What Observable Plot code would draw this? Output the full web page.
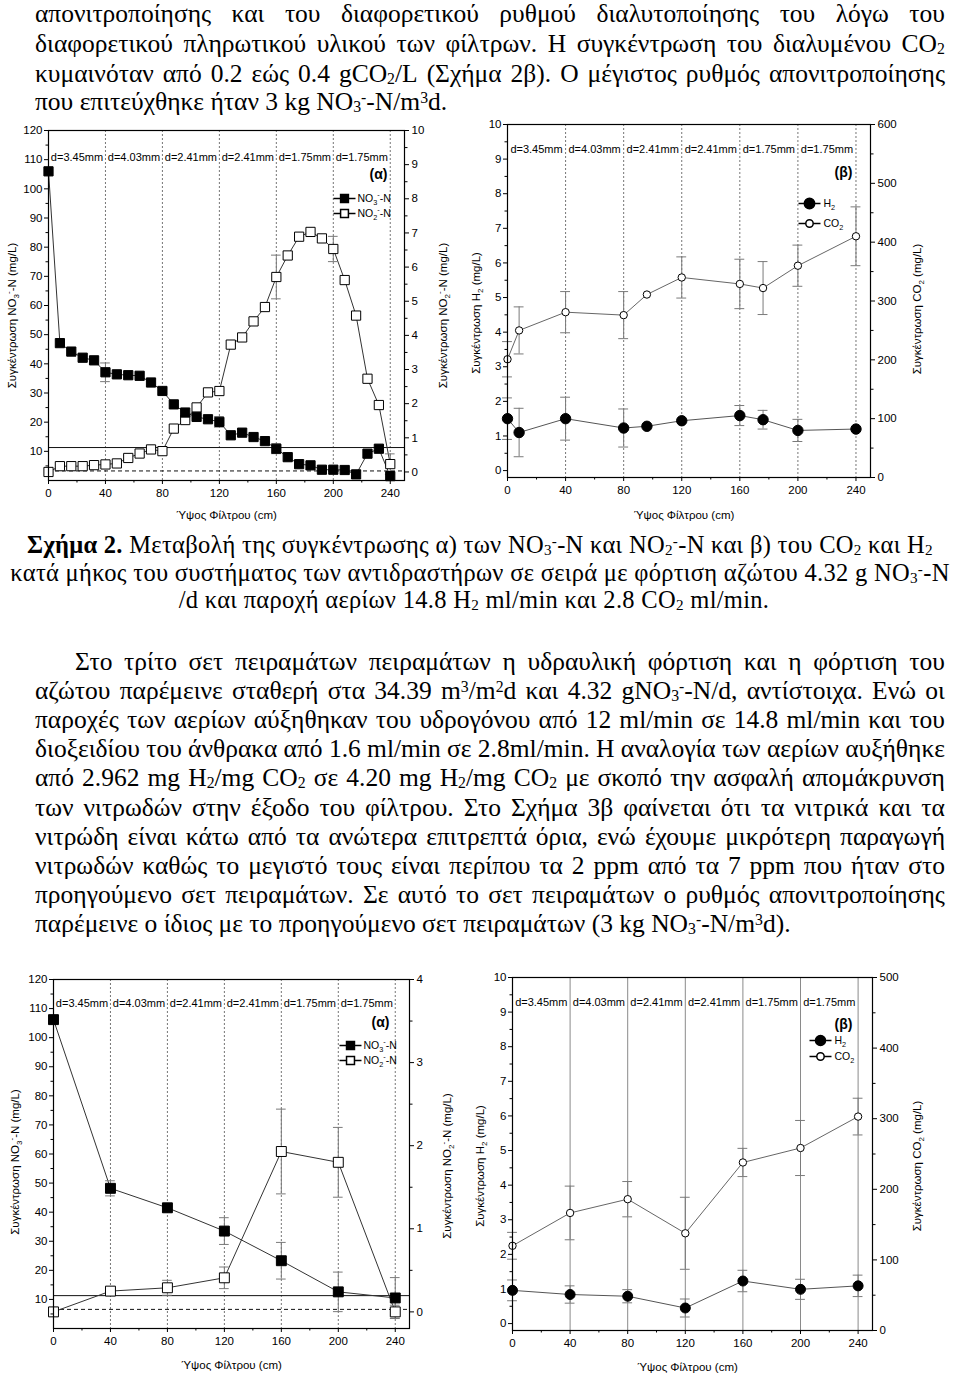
<!DOCTYPE html>
<html><head><meta charset="utf-8">
<script src="https://cdn.jsdelivr.net/npm/d3@7"></script>
<script src="https://cdn.jsdelivr.net/npm/@observablehq/plot@0.6"></script>
<style>
html,body{margin:0;padding:0;background:#fff;}
#page{position:relative;width:960px;height:1375px;overflow:hidden;background:#fff;color:#000;font-family:"Liberation Serif","Times New Roman",serif;font-size:25.5px;}
.ln{position:absolute;height:28px;line-height:28px;white-space:nowrap;}
.cap{font-size:24.5px;letter-spacing:0.3px;}
sub,sup{font-size:0.62em;line-height:0;}
sub{vertical-align:-0.15em;}
sup{vertical-align:0.45em;}
.chart{position:absolute;}
</style>
</head>
<body>
<div id="page"></div>
<script>
// ---------- shared axis data ----------
const boundaries = [0, 40, 80, 120, 160, 200, 240];
const dLabels = ["d=3.45mm", "d=4.03mm", "d=2.41mm", "d=2.41mm", "d=1.75mm", "d=1.75mm"];
const xTicks = [0, 40, 80, 120, 160, 200, 240];
const xMinor = [20, 60, 100, 140, 180, 220];
const no3Limit = 11.3;   // mg/L NO3-N
const no2Limit = 0.03;   // mg/L NO2-N

// ---------- Figure 2 (α) ----------
const xA = [0, 8, 16, 24, 32, 40, 48, 56, 64, 72, 80, 88, 96, 104, 112, 120, 128, 136, 144, 152, 160, 168, 176, 184, 192, 200, 208, 216, 224, 232, 240];
const no3A = [106, 47.1, 44.2, 42.1, 41.2, 37.1, 36.4, 36.1, 35.9, 33.6, 30.7, 26.1, 23.3, 21.8, 21.0, 20.1, 15.5, 16.4, 14.9, 13.5, 10.9, 8.0, 5.6, 5.2, 3.7, 3.7, 3.6, 2.1, 9.2, 10.9, 1.5];
const no3ErrA = [0, 0, 0, 0, 0, 3.2, 0, 0, 0, 0, 0, 0, 0, 0, 0, 1.8, 0, 0, 0, 0, 1.7, 0, 0, 0, 0, 0, 0, 0, 0, 0, 0];
const no2A = [0.0, 0.17, 0.17, 0.17, 0.2, 0.22, 0.25, 0.41, 0.54, 0.66, 0.61, 1.27, 1.52, 1.89, 2.33, 2.37, 3.73, 3.94, 4.41, 4.83, 5.71, 6.34, 6.89, 7.03, 6.84, 6.53, 5.62, 4.58, 2.73, 1.96, 0.23];
const no2ErrA = [0, 0, 0, 0, 0, 0, 0, 0, 0, 0, 0, 0, 0, 0, 0, 0, 0, 0, 0, 0, 0.64, 0, 0, 0, 0, 0.37, 0, 0, 0, 0, 0.3];

// ---------- Figure 2 (β) ----------
const xB = [0, 8, 40, 80, 96, 120, 160, 176, 200, 240];
const h2B = [1.5, 1.1, 1.5, 1.23, 1.28, 1.44, 1.59, 1.47, 1.16, 1.2];
const h2ErrB = [0.6, 0.7, 0.62, 0.55, 0, 0, 0.29, 0.27, 0.32, 0];
const co2B = [201, 250, 281, 276, 311, 340, 329, 322, 360, 410];
const co2ErrB = [30, 40, 35, 40, 0, 35, 42, 45, 35, 50];

// ---------- Figure 3 (α) ----------
const xC = [0, 40, 80, 120, 160, 200, 240];
const no3C = [106.2, 48.2, 41.5, 33.5, 23.3, 12.6, 10.5];
const no3ErrC = [0, 2.6, 1.5, 4.6, 6.3, 6.8, 7];
const no2C = [0, 0.25, 0.29, 0.41, 1.93, 1.8, 0];
const no2ErrC = [0, 0.03, 0.09, 0.13, 0.51, 0.42, 0.08];

// ---------- Figure 3 (β) ----------
const xD = [0, 40, 80, 120, 160, 200, 240];
const h2D = [0.96, 0.84, 0.79, 0.45, 1.23, 0.99, 1.09];
const h2ErrD = [0.3, 0.25, 0.19, 0.26, 0.31, 0.29, 0.31];
const co2D = [120, 166.5, 186, 137.7, 238, 258.5, 303];
const co2ErrD = [19, 38, 25, 51, 20, 39, 26];

// ---------- text ----------
const page = document.getElementById("page");
function addLine(html, yc, mode, x, w, cls) {
  x = x == null ? 35 : x; w = w == null ? 910 : w;
  const d = document.createElement("div");
  d.className = "ln" + (cls ? " " + cls : "");
  d.style.left = x + "px"; d.style.width = w + "px"; d.style.top = (yc - 14) + "px";
  if (mode === "just") {
    d.style.display = "flex"; d.style.justifyContent = "space-between"; d.style.alignItems = "baseline";
    d.innerHTML = html.split(" ").filter(t => t.length).map(t => "<span>" + t + "</span>").join("");
  } else {
    d.style.textAlign = mode === "center" ? "center" : "left";
    d.innerHTML = html;
  }
  page.appendChild(d);
}
const NO3 = "NO<sub>3</sub><sup>-</sup>";
const NO2 = "NO<sub>2</sub><sup>-</sup>";
addLine("απονιτροποίησης και του διαφορετικού ρυθμού διαλυτοποίησης του λόγω του", 14, "just");
addLine("διαφορετικού πληρωτικού υλικού των φίλτρων. Η συγκέντρωση του διαλυμένου CO<sub>2</sub>", 44, "just");
addLine("κυμαινόταν από 0.2 εώς 0.4 gCO<sub>2</sub>/L (Σχήμα 2β). Ο μέγιστος ρυθμός απονιτροποίησης", 74, "just");
addLine("που επιτεύχθηκε ήταν 3 kg " + NO3 + "-N/m<sup>3</sup>d.", 102, "left");

addLine("<b>Σχήμα 2.</b> Μεταβολή της συγκέντρωσης α) των " + NO3 + "-N και " + NO2 + "-N και β) του CO<sub>2</sub> και H<sub>2</sub>", 545, "center", 0, 960, "cap");
addLine("κατά μήκος του συστήματος των αντιδραστήρων σε σειρά με φόρτιση αζώτου 4.32 g " + NO3 + "-N", 573, "center", 0, 960, "cap");
addLine("/d και παροχή αερίων 14.8 H<sub>2</sub> ml/min και 2.8 CO<sub>2</sub> ml/min.", 600, "center", 0, 948, "cap");

addLine("Στο τρίτο σετ πειραμάτων πειραμάτων η υδραυλική φόρτιση και η φόρτιση του", 662, "just", 75, 870);
addLine("αζώτου παρέμεινε σταθερή στα 34.39 m<sup>3</sup>/m<sup>2</sup>d και 4.32 g" + NO3 + "-N/d, αντίστοιχα. Ενώ οι", 691, "just");
addLine("παροχές των αερίων αύξηθηκαν του υδρογόνου από 12 ml/min σε 14.8 ml/min και του", 720, "just");
addLine("διοξειδίου του άνθρακα από 1.6 ml/min σε 2.8ml/min. Η αναλογία των αερίων αυξήθηκε", 749, "just");
addLine("από 2.962 mg H<sub>2</sub>/mg CO<sub>2</sub> σε 4.20 mg H<sub>2</sub>/mg CO<sub>2</sub> με σκοπό την ασφαλή απομάκρυνση", 778, "just");
addLine("των νιτρωδών στην έξοδο του φίλτρου. Στο Σχήμα 3β φαίνεται ότι τα νιτρικά και τα", 808, "just");
addLine("νιτρώδη είναι κάτω από τα ανώτερα επιτρεπτά όρια, ενώ έχουμε μικρότερη παραγωγή", 837, "just");
addLine("νιτρωδών καθώς το μεγιστό τους είναι περίπου τα 2 ppm από τα 7 ppm που ήταν στο", 866, "just");
addLine("προηγούμενο σετ πειραμάτων. Σε αυτό το σετ πειραμάτων ο ρυθμός απονιτροποίησης", 895, "just");
addLine("παρέμεινε ο ίδιος με το προηγούμενο σετ πειραμάτων (3 kg " + NO3 + "-N/m<sup>3</sup>d).", 924, "left");

// ---------- charts ----------
const lineSym = {draw(ctx) { ctx.moveTo(-11, 0); ctx.lineTo(11, 0); }};
const CAP = 3.4;

function rich(svg) {
  svg.querySelectorAll("text").forEach(t => {
    const s = t.textContent;
    if (!/\{[_^]/.test(s) || t.querySelector("tspan")) return;
    const fs = parseFloat(getComputedStyle(t).fontSize) || 11;
    const parts = s.split(/(\{[_^][^}]*\})/).filter(p => p.length);
    t.textContent = "";
    let shift = 0;
    for (const p of parts) {
      const ts = document.createElementNS("http://www.w3.org/2000/svg", "tspan");
      let target = 0, txt = p, small = false;
      if (p.startsWith("{_")) { target = 0.28 * fs; txt = p.slice(2, -1); small = true; }
      else if (p.startsWith("{^")) { target = -0.42 * fs; txt = p.slice(2, -1); small = true; }
      const dy = target - shift;
      if (dy) ts.setAttribute("dy", dy.toFixed(2));
      if (small) ts.setAttribute("font-size", (fs * 0.7).toFixed(1));
      ts.textContent = txt;
      t.appendChild(ts);
      shift = target;
    }
  });
}

function chart(c) {
  const [L0, L1] = c.yL, [R0, R1] = c.yR;
  const toL = r => L0 + (r - R0) * (L1 - L0) / (R1 - R0);
  const fromL = v => R0 + (v - L0) * (R1 - R0) / (L1 - L0);
  const fmt = v => String(Math.round(v * 1000) / 1000);
  function series(s, map) {
    const data = s.x.map((x, i) => ({x, y: map(s.y[i]), lo: map(s.y[i] - s.e[i]), hi: map(s.y[i] + s.e[i]), e: s.e[i]}));
    const eb = data.filter(d => d.e > 0);
    return {
      line: Plot.line(data, {x: "x", y: "y", stroke: s.line, strokeWidth: 1}),
      err: [
        Plot.ruleX(eb, {x: "x", y1: "lo", y2: "hi", stroke: "#7a7a7a", strokeWidth: 1}),
        Plot.ruleY(eb, {y: "hi", x1: d => d.x - CAP, x2: d => d.x + CAP, stroke: "#7a7a7a", strokeWidth: 1}),
        Plot.ruleY(eb, {y: "lo", x1: d => d.x - CAP, x2: d => d.x + CAP, stroke: "#7a7a7a", strokeWidth: 1})
      ],
      dot: Plot.dot(data, {x: "x", y: "y", symbol: s.symbol, r: s.r, fill: s.fill, stroke: "#000", strokeWidth: 1})
    };
  }
  const sl = series(c.ls, v => v), sr = series(c.rs, toL);
  const lg = c.legend;
  const T = {fill: "#000", lineAnchor: "middle"};
  const marks = [
    Plot.ruleX(boundaries.slice(1), c.solidV
      ? {stroke: "#8a8a8a", strokeWidth: 1}
      : {stroke: "#666", strokeWidth: 0.9, strokeDasharray: "2,2"}),
    c.limits ? Plot.ruleY([no3Limit], {stroke: "#111", strokeWidth: 1}) : null,
    c.limits ? Plot.ruleY([toL(no2Limit)], {stroke: "#111", strokeWidth: 1, strokeDasharray: "4,3"}) : null,
    Plot.text(dLabels, {...T, x: (d, i) => (boundaries[i] + boundaries[i + 1]) / 2, frameAnchor: "top", textAnchor: "middle", dy: c.dDy, fontSize: 11}),
    Plot.text([c.panel], {...T, frameAnchor: "top-right", textAnchor: "middle", dx: c.panelPos[0], dy: c.panelPos[1], fontSize: 14, fontWeight: "bold"}),
    // legend
    Plot.dot([0], {frameAnchor: "top-right", dx: lg.dx, dy: lg.dy[0], symbol: lineSym, r: 1, stroke: "#000", fill: "none"}),
    Plot.dot([0], {frameAnchor: "top-right", dx: lg.dx, dy: lg.dy[0], symbol: c.ls.symbol, r: c.ls.r * lg.scale, fill: c.ls.fill, stroke: "#000"}),
    Plot.text([lg.labels[0]], {...T, frameAnchor: "top-right", dx: lg.tdx, dy: lg.dy[0], textAnchor: "start", fontSize: 10.5}),
    Plot.dot([0], {frameAnchor: "top-right", dx: lg.dx, dy: lg.dy[1], symbol: lineSym, r: 1, stroke: "#000", fill: "none"}),
    Plot.dot([0], {frameAnchor: "top-right", dx: lg.dx, dy: lg.dy[1], symbol: c.rs.symbol, r: c.rs.r * lg.scale, fill: c.rs.fill, stroke: "#000"}),
    Plot.text([lg.labels[1]], {...T, frameAnchor: "top-right", dx: lg.tdx, dy: lg.dy[1], textAnchor: "start", fontSize: 10.5}),
    // series
    sl.line, sr.line, ...sl.err, ...sr.err, sr.dot, sl.dot,
    // axes
    Plot.axisX({ticks: xTicks, tickSize: 4, tickPadding: 4, label: null, fontSize: 11.5}),
    Plot.axisX({ticks: xMinor, tickSize: 2.5, tickFormat: () => "", label: null}),
    Plot.axisY({ticks: c.leftTicks, tickSize: 4, tickPadding: 2, label: null, fontSize: 11.5}),
    Plot.axisY({ticks: c.leftMinor, tickSize: 2.5, tickFormat: () => "", label: null}),
    Plot.axisY({anchor: "right", ticks: c.rightTicks.map(toL), tickSize: 4, tickPadding: 3, tickFormat: v => fmt(fromL(v)), label: null, fontSize: 11.5}),
    Plot.axisY({anchor: "right", ticks: c.rightMinor.map(toL), tickSize: 2.5, tickFormat: () => "", label: null}),
    Plot.frame({stroke: "#000", strokeWidth: 1.2}),
    // titles
    Plot.text([c.tLeft[0]], {...T, frameAnchor: "left", textAnchor: "middle", dx: c.tLeft[1], dy: c.tLeft[2], rotate: -90, fontSize: 11.5}),
    Plot.text([c.tRight[0]], {...T, frameAnchor: "right", textAnchor: "middle", dx: c.tRight[1], dy: c.tRight[2], rotate: -90, fontSize: 11.5}),
    Plot.text(["Ύψος Φίλτρου (cm)"], {...T, frameAnchor: "bottom", textAnchor: "middle", dx: c.tX[0], dy: c.tX[1], fontSize: 11.5})
  ].filter(Boolean);
  const svg = Plot.plot({
    width: c.w, height: c.h,
    marginTop: c.m[0], marginRight: c.m[1], marginBottom: c.m[2], marginLeft: c.m[3],
    x: {domain: [0, 250]},
    y: {domain: c.yL},
    style: {fontFamily: "'Liberation Sans', Arial, sans-serif", fontSize: "11.5px", background: "transparent", color: "#000", overflow: "visible"},
    marks
  });
  svg.classList.add("chart");
  svg.style.left = c.left + "px";
  svg.style.top = c.top + "px";
  page.appendChild(svg);
  rich(svg);
}

const sq = "square", ci = "circle";
chart({
  left: 0, top: 115, w: 460, h: 410, m: [15, 56, 45, 48],
  yL: [0, 120], yR: [-0.25, 10],
  leftTicks: d3.range(10, 121, 10), leftMinor: d3.range(5, 120, 10),
  rightTicks: d3.range(0, 11, 1), rightMinor: d3.range(0.5, 10, 1),
  ls: {x: xA, y: no3A, e: no3ErrA, symbol: sq, r: 5.2, fill: "#000", line: "#333"},
  rs: {x: xA, y: no2A, e: no2ErrA, symbol: sq, r: 5.2, fill: "#fff", line: "#333"},
  limits: true, dDy: 27, panel: "(α)", panelPos: [-26, 44],
  legend: {dx: -60, tdx: -47, dy: [68, 83], scale: 0.85, labels: ["NO{_3}{^-}-N", "NO{_2}{^-}-N"]},
  tLeft: ["Συγκέντρωση NO{_3}{^-}-N (mg/L)", -36, 10],
  tRight: ["Συγκέντρωση NO{_2}{^-}-N (mg/L)", 39, 10],
  tX: [0, 35]
});
chart({
  left: 460, top: 110, w: 500, h: 415, m: [14, 90, 48, 47],
  yL: [-0.2, 10], yR: [0, 600],
  leftTicks: d3.range(0, 11, 1), leftMinor: d3.range(0.5, 10, 1),
  rightTicks: d3.range(0, 601, 100), rightMinor: d3.range(50, 600, 100),
  ls: {x: xB, y: h2B, e: h2ErrB, symbol: ci, r: 5.2, fill: "#000", line: "#555"},
  rs: {x: xB, y: co2B, e: co2ErrB, symbol: ci, r: 3.7, fill: "#fff", line: "#666"},
  limits: false, dDy: 25, panel: "(β)", panelPos: [-27, 48],
  legend: {dx: -61, tdx: -47, dy: [79, 99], scale: 1, labels: ["H{_2}", "CO{_2}"]},
  tLeft: ["Συγκέντρωση H{_2} (mg/L)", -31, 12],
  tRight: ["Συγκέντρωση CO{_2} (mg/L)", 47, 8],
  tX: [-5, 38]
});
chart({
  left: 0, top: 965, w: 460, h: 410, m: [14, 51, 47, 53],
  yL: [0, 120], yR: [-0.2, 4],
  leftTicks: d3.range(10, 121, 10), leftMinor: d3.range(5, 120, 10),
  rightTicks: d3.range(0, 5, 1), rightMinor: d3.range(0.5, 4, 1),
  ls: {x: xC, y: no3C, e: no3ErrC, symbol: sq, r: 5.6, fill: "#000", line: "#333"},
  rs: {x: xC, y: no2C, e: no2ErrC, symbol: sq, r: 5.6, fill: "#fff", line: "#333"},
  limits: true, dDy: 24, panel: "(α)", panelPos: [-29, 43],
  legend: {dx: -59, tdx: -46, dy: [66, 81], scale: 0.8, labels: ["NO{_3}{^-}-N", "NO{_2}{^-}-N"]},
  tLeft: ["Συγκέντρωση NO{_3}{^-}-N (mg/L)", -38, 8],
  tRight: ["Συγκέντρωση NO{_2}{^-}-N (mg/L)", 38, 12],
  tX: [0, 37]
});
chart({
  left: 460, top: 965, w: 500, h: 410, m: [12, 88, 45, 52],
  yL: [-0.2, 10], yR: [0, 500],
  leftTicks: d3.range(0, 11, 1), leftMinor: d3.range(0.5, 10, 1),
  rightTicks: d3.range(0, 501, 100), rightMinor: d3.range(50, 500, 100),
  ls: {x: xD, y: h2D, e: h2ErrD, symbol: ci, r: 5, fill: "#000", line: "#555"},
  rs: {x: xD, y: co2D, e: co2ErrD, symbol: ci, r: 3.7, fill: "#fff", line: "#666"},
  limits: false, solidV: true, dDy: 25, panel: "(β)", panelPos: [-29, 47],
  legend: {dx: -52, tdx: -38, dy: [63, 79], scale: 1, labels: ["H{_2}", "CO{_2}"]},
  tLeft: ["Συγκέντρωση H{_2} (mg/L)", -32, 12],
  tRight: ["Συγκέντρωση CO{_2} (mg/L)", 45, 12],
  tX: [-5, 37]
});
</script>
</body></html>
